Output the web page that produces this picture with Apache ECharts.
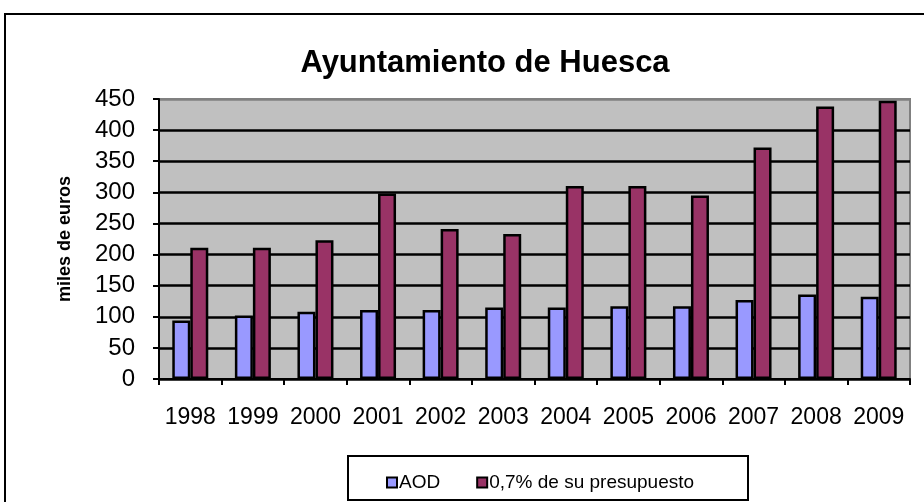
<!DOCTYPE html>
<html><head><meta charset="utf-8">
<script src="https://cdn.jsdelivr.net/npm/echarts@6/dist/echarts.min.js"></script>
<style>html,body{margin:0;padding:0;background:#fff}#c{width:924px;height:502px}</style>
</head><body><div id="c"></div>
<script>
const categories = ['1998','1999','2000','2001','2002','2003','2004','2005','2006','2007','2008','2009'];
const aod = [94, 102, 108, 111, 111, 115, 115, 117, 117, 127, 136, 132];
const presupuesto = [211, 211, 223, 298, 241, 233, 310, 310, 295, 372, 438, 447];
const seriesNames = ['AOD', '0,7% de su presupuesto'];
const yTicks = [0, 450, 50];

const F = '"Liberation Sans", Arial, sans-serif';
const chart = echarts.init(document.getElementById('c'), null, {renderer:'canvas'});
const gridColors = ['#000','#000','#000','#000','#000','#000','#000','#000','#000','#808080'];
chart.setOption({
  animation: false,
  backgroundColor: '#fff',
  graphic: [
    {type:'rect', shape:{x:5, y:14, width:940, height:510}, style:{fill:'none', stroke:'#000', lineWidth:2}, z:-1},
    {type:'rect', shape:{x:348, y:456, width:400, height:44}, style:{fill:'#fff', stroke:'#000', lineWidth:2}, z:0}
  ],
  title: {
    text: 'Ayuntamiento de Huesca',
    left: 480, top: 43, textAlign: 'center',
    textStyle: {fontFamily: F, fontSize: 31, fontWeight: 'bold', color: '#000'}
  },
  legend: {
    left: 381, top: 468, itemWidth: 10, itemHeight: 10, itemGap: 36,
    icon: 'rect', z: 5,
    textStyle: {fontFamily: F, fontSize: 19, color: '#000', padding: [0,0,0,-3]},
    data: seriesNames
  },
  grid: {
    left: 159, right: 14, top: 99, bottom: 123,
    show: true, backgroundColor: '#c0c0c0', borderColor: '#808080', borderWidth: 2
  },
  xAxis: {
    type: 'category', data: categories,
    axisLine: {lineStyle: {color: '#000', width: 2}},
    axisTick: {show: true, length: 6, lineStyle: {color: '#000', width: 2}},
    axisLabel: {fontFamily: F, fontSize: 23, color: '#000', margin: 27, interval: 0}
  },
  yAxis: {
    type: 'value', min: yTicks[0], max: yTicks[1], interval: yTicks[2],
    name: 'miles de euros', nameLocation: 'middle', nameGap: 85, nameRotate: 90,
    nameTextStyle: {fontFamily: F, fontSize: 18, fontWeight: 'bold', color: '#000'},
    axisLine: {show: true, lineStyle: {color: '#000', width: 2}},
    axisTick: {show: true, length: 6, inside: false, lineStyle: {color: '#000', width: 2}},
    axisLabel: {fontFamily: F, fontSize: 24, color: '#000', margin: 24},
    splitLine: {show: true, lineStyle: {color: gridColors, width: 2.5}}
  },
  series: [
    {name: seriesNames[0], type: 'bar', data: aod, barWidth: 18, barGap: '0%', barCategoryGap: '42%',
     itemStyle: {color: '#9999ff', borderColor: '#000', borderWidth: 2.5}},
    {name: seriesNames[1], type: 'bar', data: presupuesto, barWidth: 18,
     itemStyle: {color: '#993366', borderColor: '#000', borderWidth: 2.5}}
  ]
});
</script></body></html>
